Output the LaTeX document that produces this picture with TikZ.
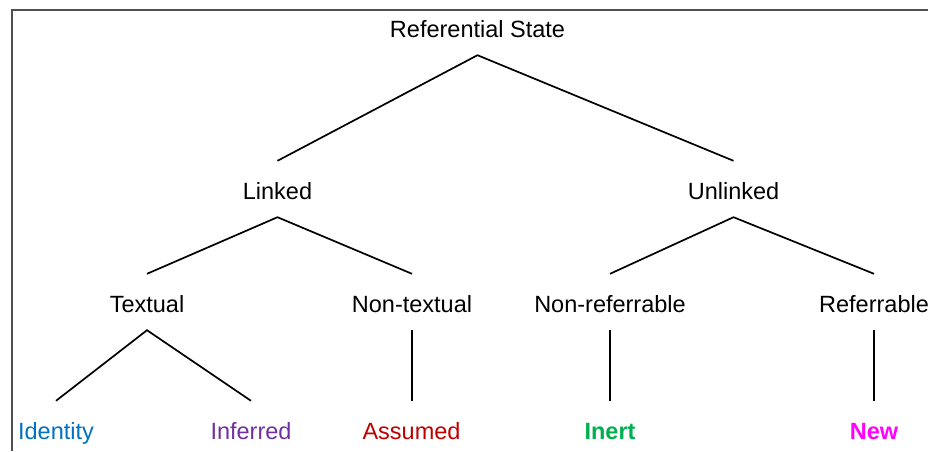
\documentclass[tikz,border=0pt]{standalone}
\usepackage{fontspec}
\setmainfont{Liberation Sans}
\definecolor{cIdentity}{HTML}{0070C0}
\definecolor{cInferred}{HTML}{7030A0}
\definecolor{cAssumed}{HTML}{C00000}
\definecolor{cInert}{HTML}{00B050}
\definecolor{cNew}{HTML}{FF00FF}
\definecolor{frame}{HTML}{505050}
\tikzset{
  lbl/.style={anchor=base, text height=25pt, text depth=5pt, inner ysep=13pt, inner xsep=0pt,
    font=\fontsize{23.5}{27}\selectfont},
  boldlbl/.style={lbl, font=\fontsize{23.5}{27}\selectfont\bfseries},
  edge/.style={line width=1.7pt, black},
}
\begin{document}
\begin{tikzpicture}[x=1pt,y=-1pt]
\useasboundingbox (0,0) rectangle (928,451);
\draw[frame, line width=2pt] (11.5,451) -- (11.5,9.5) -- (928,9.5);
% level 0
\node[lbl] (root) at (477.5,37) {Referential State};
% level 1
\node[lbl] (linked) at (277.5,199) {Linked};
\node[lbl] (unlinked) at (733.5,199) {Unlinked};
% level 2
\node[lbl] (textual) at (147,312) {Textual};
\node[lbl] (nontextual) at (412,312) {Non-textual};
\node[lbl] (nonref) at (610,312) {Non-referrable};
\node[lbl] (ref) at (874,312) {Referrable};
% level 3
\node[lbl, text=cIdentity] (identity) at (56,439) {Identity};
\node[lbl, text=cInferred] (inferred) at (251,439) {Inferred};
\node[lbl, text=cAssumed] (assumed) at (411.5,439) {Assumed};
\node[boldlbl, text=cInert] (inert) at (610,439) {Inert};
\node[boldlbl, text=cNew] (new) at (874,439) {New};
% connectors
\draw[edge] (linked.north) -- (root.south) -- (unlinked.north);
\draw[edge] (textual.north) -- (linked.south) -- (nontextual.north);
\draw[edge] (nonref.north) -- (unlinked.south) -- (ref.north);
\draw[edge] (identity.north) -- (textual.south) -- (inferred.north);
\draw[edge] (nontextual.south) -- (nontextual.south |- assumed.north);
\draw[edge] (nonref.south) -- (inert.north);
\draw[edge] (ref.south) -- (new.north);
\end{tikzpicture}
\end{document}
